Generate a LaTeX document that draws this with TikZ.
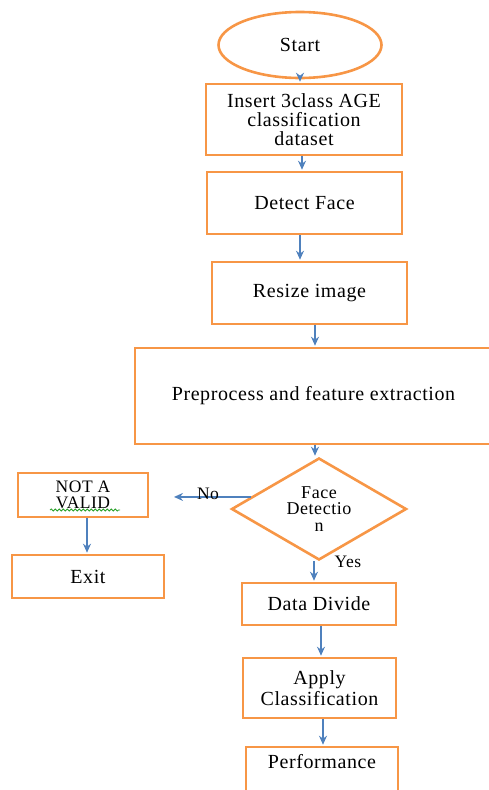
\documentclass[tikz,border=0pt]{standalone}
\usepackage{fontspec}
\setmainfont{Liberation Serif}[LetterSpace=3]
\usetikzlibrary{shapes.geometric,arrows.meta,decorations.pathmorphing}
\definecolor{boxorange}{RGB}{247,150,70}
\definecolor{arrblue}{RGB}{79,129,189}
\definecolor{spellgreen}{RGB}{40,160,40}
\begin{document}
\begin{tikzpicture}[x=1pt,y=-1pt,
 box/.style={draw=boxorange,line width=2.6pt,rectangle,inner sep=0pt,align=center,font=\fontsize{20}{19}\selectfont},
 arr/.style={draw=arrblue,line width=1.3pt,-{Stealth[length=9pt,width=8pt]},shorten >=1pt},
 lbl/.style={font=\fontsize{17.5}{17}\selectfont,inner sep=0pt}]
\useasboundingbox (0,0) rectangle (488,790);
\node[box,ellipse,minimum width=163pt,minimum height=66pt] (start) at (300,45) {Start};
\node[box,minimum width=196pt,minimum height=71pt] (insert) at (304,119.5) {Insert 3class AGE\\classification\\dataset};
\node[box,minimum width=195pt,minimum height=62pt] (detect) at (304.5,203) {Detect Face};
\node[box,minimum width=195pt,minimum height=62pt] (resize) at (309.5,293) {Resize image};
\node[box,minimum width=357pt,minimum height=96pt] (prep) at (313.5,396) {Preprocess and feature extraction};
\node[box,diamond,aspect=1.7,minimum width=175pt,minimum height=102pt,font=\fontsize{18}{16.5}\selectfont] (diam) at (319,509) {Face\\Detectio\\n};
\node[box,minimum width=130pt,minimum height=44pt,font=\fontsize{17.5}{16}\selectfont] (notvalid) at (83,495) {NOT A\\VALID};
\node[box,minimum width=152pt,minimum height=43pt] (exit) at (88,576.5) {Exit};
\node[box,minimum width=154pt,minimum height=42pt] (dd) at (319,604) {Data Divide};
\node[box,minimum width=153pt,minimum height=60pt,font=\fontsize{20}{21}\selectfont] (apply) at (319.5,688) {Apply\\Classification};
\node[box,minimum width=152pt,minimum height=73pt] (perf) at (322,783.5) {};
\node[lbl,font=\fontsize{20}{19}\selectfont] (perftext) at (322,762) {Performance};
\coordinate (noend) at (173,0);
\draw[arr] (start.south) -- (start.south |- insert.north);
\draw[arr] ([xshift=-2pt]insert.south) -- ([xshift=-2pt]insert.south |- detect.north);
\draw[arr] ([xshift=-4.5pt]detect.south) -- ([xshift=-4.5pt]detect.south |- resize.north);
\draw[arr] ([xshift=5.5pt]resize.south) -- ([xshift=5.5pt]resize.south |- prep.north);
\draw[arr] ([xshift=-4pt]diam.north |- prep.south) -- ([xshift=-4pt]diam.north);
\draw[arr] (diam.170) -- (diam.170 -| noend);
\draw[arr] ([xshift=-5pt]diam.south) -- ([xshift=-5pt]diam.south |- dd.north);
\draw[arr] ([xshift=4pt]notvalid.south) -- ([xshift=4pt]notvalid.south |- exit.north);
\draw[arr] ([xshift=2pt]dd.south) -- ([xshift=2pt]dd.south |- apply.north);
\draw[arr] ([xshift=3.5pt]apply.south) -- ([xshift=3.5pt]apply.south |- perf.north);
\node[lbl] (no) at (208,494) {No};
\node[lbl] (yes) at (348,562) {Yes};
\draw[spellgreen,line width=0.8pt,decorate,decoration={snake,amplitude=1pt,segment length=4pt}] (50,510) -- (120,510);
\end{tikzpicture}
\end{document}
